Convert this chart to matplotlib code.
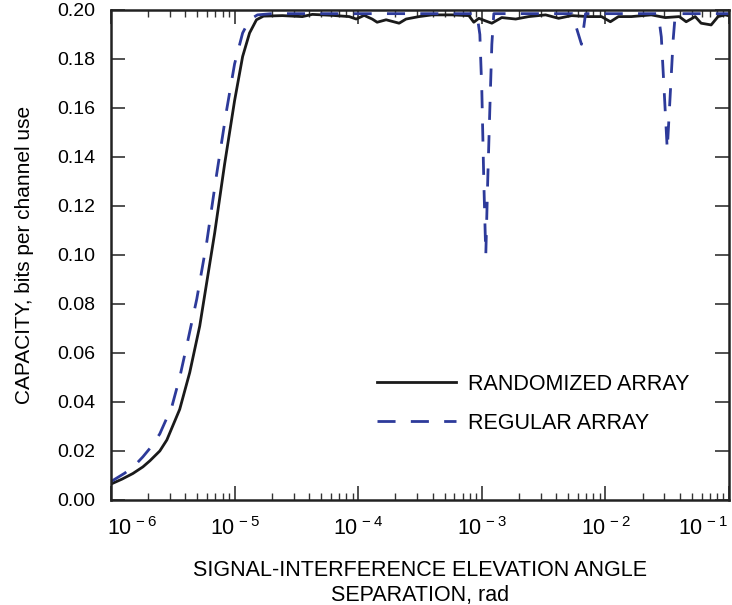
import matplotlib
matplotlib.use("Agg")
import matplotlib.pyplot as plt
import matplotlib.ticker as mticker
import matplotlib.transforms as mtransforms
import numpy as np

plt.rcParams['font.family'] = ['Liberation Sans', 'DejaVu Sans']
plt.rcParams['mathtext.fontset'] = 'custom'
plt.rcParams['mathtext.rm'] = 'Liberation Sans'
plt.rcParams['mathtext.it'] = 'Liberation Sans'

# log10 of separation angle (rad) and capacity
rand_exp = [-6.000, -5.911, -5.823, -5.742, -5.685, -5.605, -5.548, -5.444,
            -5.363, -5.282, -5.161, -5.081, -5.000, -4.935, -4.879, -4.823,
            -4.766, -4.613, -4.452, -4.371, -4.210, -4.073, -4.016, -3.952,
            -3.887, -3.847, -3.774, -3.669, -3.613, -3.508, -3.403, -3.242,
            -3.105, -3.065, -3.024, -2.968, -2.919, -2.839, -2.726, -2.621,
            -2.484, -2.379, -2.274, -2.137, -2.032, -1.960, -1.895, -1.790,
            -1.629, -1.516, -1.403, -1.347, -1.274, -1.226, -1.145, -1.089,
            -1.032, -0.990]
rand_cap = [0.0065, 0.0085, 0.0108, 0.0135, 0.0160, 0.0200, 0.0245, 0.0370,
            0.0520, 0.0710, 0.1090, 0.1370, 0.1630, 0.1810, 0.1906, 0.1960,
            0.1975, 0.1977, 0.1973, 0.1982, 0.1978, 0.1973, 0.1963, 0.1978,
            0.1963, 0.1950, 0.1960, 0.1946, 0.1963, 0.1973, 0.1980, 0.1980,
            0.1977, 0.1950, 0.1966, 0.1955, 0.1946, 0.1969, 0.1963, 0.1973,
            0.1980, 0.1966, 0.1977, 0.1973, 0.1973, 0.1952, 0.1973, 0.1973,
            0.1980, 0.1969, 0.1973, 0.1952, 0.1973, 0.1946, 0.1939, 0.1973,
            0.1980, 0.1975]

reg_exp = [-6.000, -5.887, -5.800, -5.742, -5.670, -5.605, -5.508, -5.444,
           -5.387, -5.306, -5.226, -5.145, -5.065, -5.000, -4.935, -4.879,
           -4.815, -4.700, -3.040, -3.016, -3.000, -2.984, -2.968, -2.952,
           -2.935, -2.919, -2.903, -2.270, -2.194, -2.161, -1.573, -1.548,
           -1.500, -1.452, -1.435, -0.990]
reg_cap = [0.0075, 0.0110, 0.0145, 0.0176, 0.0220, 0.0270, 0.0380, 0.0500,
           0.0630, 0.0820, 0.1050, 0.1330, 0.1590, 0.1780, 0.1906, 0.1960,
           0.1980, 0.1985, 0.1985, 0.1900, 0.1670, 0.1300, 0.1000, 0.1310,
           0.1600, 0.1860, 0.1985, 0.1985, 0.1860, 0.1985, 0.1985, 0.1890,
           0.1430, 0.1880, 0.1985, 0.1985]

x_ticks = [1e-6, 1e-5, 1e-4, 1e-3, 1e-2, 1e-1]
x_labels = [r'$10^{\,-6}$', r'$10^{\,-5}$', r'$10^{\,-4}$',
            r'$10^{\,-3}$', r'$10^{\,-2}$', r'$10^{\,-1}$']
y_ticks = [0.00, 0.02, 0.04, 0.06, 0.08, 0.10, 0.12, 0.14, 0.16, 0.18, 0.20]

fig = plt.figure(figsize=(7.32, 6.05), dpi=100)
ax = fig.add_axes([0.1516, 0.1736, 0.8444, 0.8099])

ax.plot(10 ** np.array(rand_exp), rand_cap, color='#1a1a1a', lw=2.0,
        label='RANDOMIZED ARRAY')
ln, = ax.plot(10 ** np.array(reg_exp), reg_cap, color='#2d3a9a', lw=2.0,
              label='REGULAR ARRAY')
ln.set_dashes([6.5, 5.5])

ax.set_xscale('log')
ax.set_xlim(1e-6, 0.1)
ax.set_ylim(0, 0.20)
ax.set_xticks(x_ticks)
ax.set_xticklabels(x_labels)
ax.xaxis.set_minor_locator(mticker.LogLocator(base=10, subs=np.arange(2, 10)))
ax.xaxis.set_minor_formatter(mticker.NullFormatter())
ax.set_yticks(y_ticks)
ax.yaxis.set_major_formatter(mticker.FormatStrFormatter('%.2f'))

ax.tick_params(axis='both', which='major', direction='in', length=10,
               width=1.2, color='#333333', top=True, right=True)
ax.tick_params(axis='x', which='minor', direction='in', length=5,
               width=1.0, color='#333333', top=True)
ax.tick_params(axis='x', which='major', pad=12, labelsize=15.5)
ax.tick_params(axis='y', which='major', pad=11, labelsize=14)
for sp in ax.spines.values():
    sp.set_linewidth(1.8)
    sp.set_color('#222222')

# first and last exponent labels are nudged inward as in the reference
xlabs = ax.get_xticklabels()
xlabs[0].set_transform(xlabs[0].get_transform() +
                       mtransforms.ScaledTranslation(15 / 72, 0, fig.dpi_scale_trans))
xlabs[-1].set_transform(xlabs[-1].get_transform() +
                        mtransforms.ScaledTranslation(-19 / 72, 0, fig.dpi_scale_trans))

ax.set_xlabel('SIGNAL-INTERFERENCE ELEVATION ANGLE\nSEPARATION, rad',
              fontsize=15.5, labelpad=15, linespacing=1.2)
ax.set_ylabel('CAPACITY, bits per channel use', fontsize=15, labelpad=17)

ax.legend(loc='upper left', bbox_to_anchor=(0.43, 0.258), frameon=False,
          fontsize=15.5, handlelength=3.7, handletextpad=0.55, labelspacing=0.85,
          borderpad=0, borderaxespad=0)

fig.savefig('out.png', dpi=100)
